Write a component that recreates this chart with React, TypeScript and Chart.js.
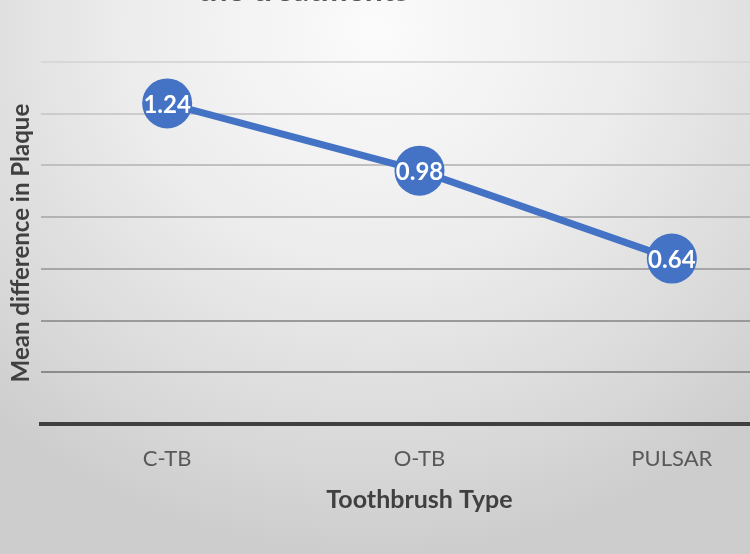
import React, { useEffect, useRef } from "react";
import { Chart, registerables } from "chart.js";

Chart.register(...registerables);

const categories = ["C-TB", "O-TB", "PULSAR"];
const meanDifference = [1.24, 0.98, 0.64];
const yTicks = [0, 0.2, 0.4, 0.6, 0.8, 1.0, 1.2, 1.4];
const chartTitle = "the treatments";
const xTitle = "Toothbrush Type";
const yTitle = "Mean difference in Plaque";

const FONT = "Lato, 'Open Sans', sans-serif";

const gridColors = ["#3f3f3f", "#8c8c8c", "#999999", "#a6a6a6", "#b3b3b3", "#c0c0c0", "#cccccc", "#d8d8d8"];

const labelPlugin = {
  id: "pointLabels",
  afterDatasetsDraw(chart: any) {
    const ctx = chart.ctx;
    const meta = chart.getDatasetMeta(0);
    ctx.save();
    ctx.fillStyle = "#ffffff";
    ctx.font = `bold 24px ${FONT}`;
    ctx.textAlign = "center";
    ctx.textBaseline = "middle";
    meta.data.forEach((pt: any, i: number) => {
      const v = chart.data.datasets[0].data[i] as number;
      ctx.fillText(v.toFixed(2), pt.x, pt.y + 2);
    });
    ctx.restore();
  },
};

const clippedTitlePlugin = {
  id: "clippedTitle",
  afterDraw(chart: any) {
    const ctx = chart.ctx;
    ctx.save();
    ctx.fillStyle = "#595959";
    ctx.font = `bold 32px ${FONT}`;
    ctx.textAlign = "center";
    ctx.textBaseline = "alphabetic";
    ctx.fillText(chartTitle, 303, 1);
    ctx.restore();
  },
};

export default function App() {
  const ref = useRef<HTMLCanvasElement>(null);
  useEffect(() => {
    if (!ref.current) return;
    const chart = new Chart(ref.current, {
      type: "line",
      data: {
        labels: categories,
        datasets: [
          {
            data: meanDifference,
            borderColor: "#4472C4",
            backgroundColor: "#4472C4",
            borderWidth: 7,
            pointRadius: 25,
            pointHoverRadius: 25,
            pointBackgroundColor: "#4472C4",
            pointBorderWidth: 0,
            tension: 0,
            clip: false as any,
          },
        ],
      },
      options: {
        responsive: false,
        animation: false,
        events: [],
        layout: { autoPadding: false, padding: { left: 4.2, right: 2, top: 62, bottom: 39.4 } },
        plugins: {
          legend: { display: false },
          tooltip: { enabled: false },
          title: { display: false },
        },
        scales: {
          x: {
            offset: true,
            grid: { display: false, drawTicks: false },
            border: { display: true, color: "#404040", width: 4 },
            ticks: {
              color: "#595959",
              font: { family: FONT, size: 22 },
              padding: 22,
            },
            title: {
              display: true,
              text: xTitle,
              color: "#404040",
              font: { family: FONT, size: 25, weight: "bold" },
              padding: { top: -10, bottom: 0 },
            },
          },
          y: {
            min: 0,
            max: 1.4,
            afterBuildTicks(scale: any) {
              scale.ticks = yTicks.map((v) => ({ value: v }));
            },
            grid: {
              drawTicks: false,
              color: (c: any) => gridColors[c.index] || "#cccccc",
              lineWidth: 2,
            },
            border: { display: false },
            ticks: { display: false },
            title: {
              display: true,
              text: yTitle,
              color: "#404040",
              font: { family: FONT, size: 24, weight: "bold" },
              padding: { top: 3, bottom: 5 },
            },
          },
        },
      },
      plugins: [labelPlugin, clippedTitlePlugin],
    });
    return () => chart.destroy();
  }, []);
  return (
    <div
      style={{
        position: "fixed",
        left: 0,
        top: 0,
        width: 750,
        height: 554,
        overflow: "hidden",
        background:
          "radial-gradient(ellipse 75% 95% at 50% 5%, #fbfbfb 0%, #ececec 45%, #d9d9d9 80%, #cdcdcd 100%)",
      }}
    >
      <canvas ref={ref} width={800} height={554} style={{ display: "block" }} />
    </div>
  );
}
